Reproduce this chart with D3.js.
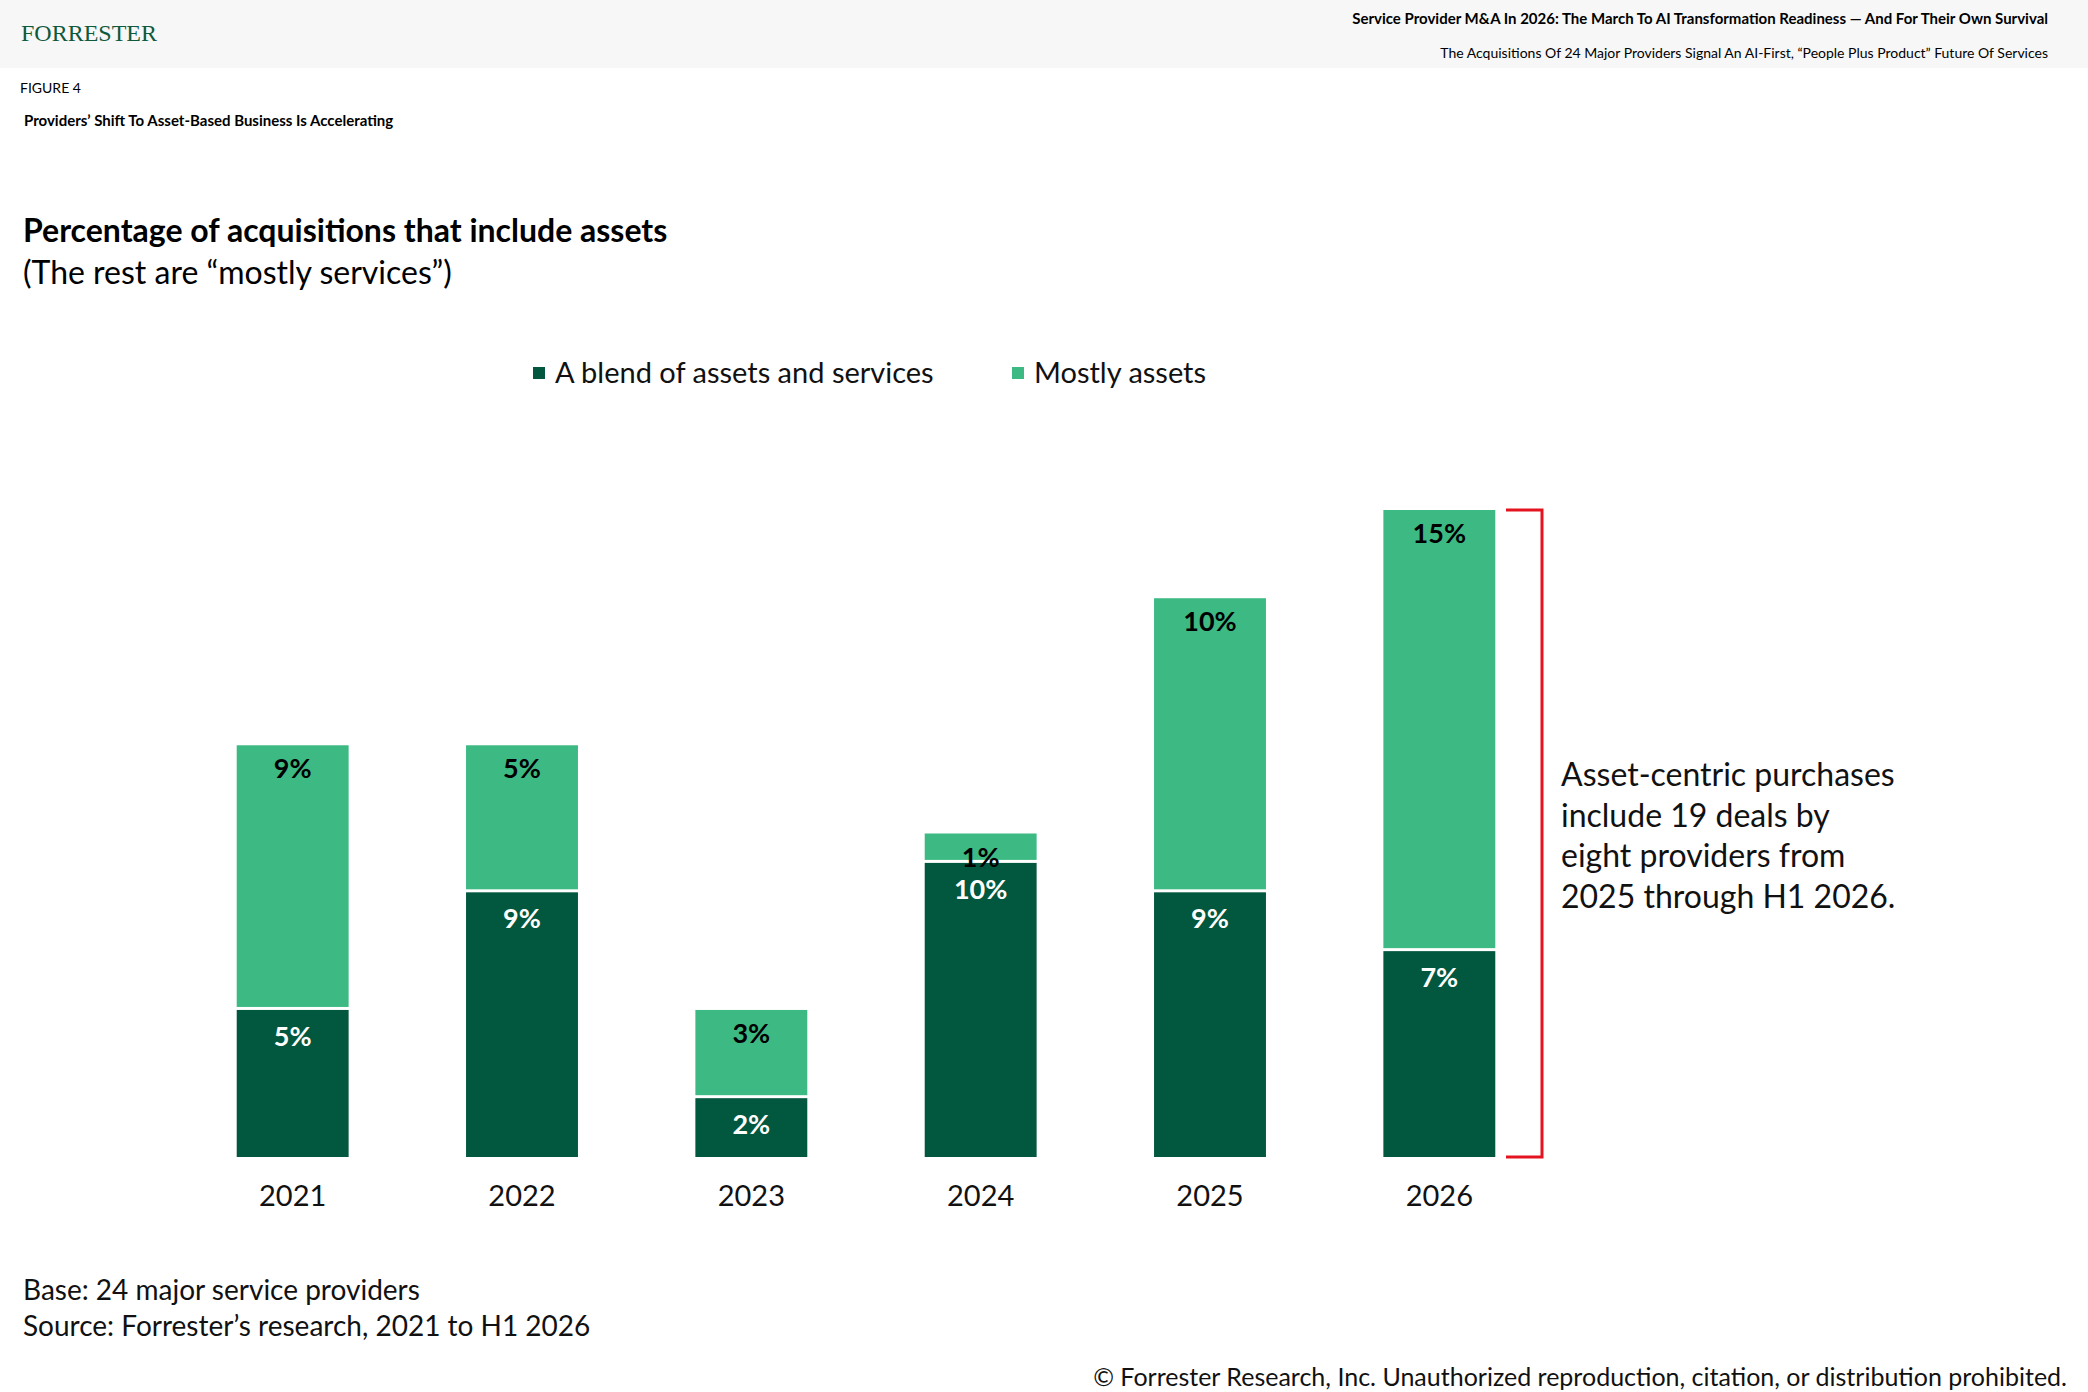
<!DOCTYPE html>
<html>
<head>
<meta charset="utf-8">
<script src="https://cdn.jsdelivr.net/npm/d3@7"></script>
<style>
  body { margin: 0; background: #fff; }
  text { font-family: Lato, "Open Sans", sans-serif; }
</style>
</head>
<body>
<svg id="chart" width="2088" height="1392"></svg>
<script>
// data
const years = ["2021", "2022", "2023", "2024", "2025", "2026"];
const blend = [5, 9, 2, 10, 9, 7];
const mostlyAssets = [9, 5, 3, 1, 10, 15];
const seriesNames = ["A blend of assets and services", "Mostly assets"];
const colors = ["#02573f", "#3dba83"];

const svg = d3.select("#chart");

// header band
svg.append("rect").attr("width", 2088).attr("height", 68).attr("fill", "#f7f7f7");
svg.append("text").attr("x", 21).attr("y", 41)
    .style("font-family", "'Liberation Serif', serif").attr("font-size", 24)
    .attr("fill", "#0f5a3c").text("FORRESTER");
svg.append("text").attr("x", 2048).attr("y", 24).attr("text-anchor", "end")
    .attr("font-size", 15).attr("font-weight", "bold")
    .text("Service Provider M&A In 2026: The March To AI Transformation Readiness — And For Their Own Survival");
svg.append("text").attr("x", 2048).attr("y", 58).attr("text-anchor", "end")
    .attr("font-size", 14)
    .text("The Acquisitions Of 24 Major Providers Signal An AI-First, “People Plus Product” Future Of Services");
svg.append("text").attr("x", 20).attr("y", 93).attr("font-size", 14).text("FIGURE 4");
svg.append("text").attr("x", 24).attr("y", 126).attr("font-size", 15).attr("font-weight", "bold")
    .text("Providers’ Shift To Asset-Based Business Is Accelerating");

svg.append("text").attr("x", 23).attr("y", 242).attr("font-size", 32).attr("font-weight", "bold")
    .text("Percentage of acquisitions that include assets");
svg.append("text").attr("x", 23).attr("y", 284).attr("font-size", 32)
    .text("(The rest are “mostly services”)");

// legend
const legX = [533, 1012];
seriesNames.forEach(function(n, i) {
    svg.append("rect").attr("x", legX[i]).attr("y", 367).attr("width", 12).attr("height", 12).attr("fill", colors[i]);
    svg.append("text").attr("x", legX[i] + 22).attr("y", 383).attr("font-size", 29).attr("fill", "#111").text(n);
});

// scales
const x = d3.scaleBand().domain(years).range([178, 1554]).paddingInner(0.512).paddingOuter(0.256);
const y = d3.scaleLinear().domain([0, 22]).range([1157, 510]);

const stackData = years.map(function(yr, i) { return { year: yr, blend: blend[i], assets: mostlyAssets[i] }; });
const stack = d3.stack().keys(["blend", "assets"])(stackData);

stack.forEach(function(layer, li) {
    const g = svg.append("g");
    g.selectAll("rect").data(layer).enter().append("rect")
        .attr("x", d => x(d.data.year))
        .attr("y", d => y(d[1]))
        .attr("width", x.bandwidth())
        .attr("height", d => y(d[0]) - y(d[1]) - (li === 0 ? 0 : 3))
        .attr("fill", colors[li]);
    g.selectAll("text").data(layer).enter().append("text")
        .attr("x", d => x(d.data.year) + x.bandwidth() / 2)
        .attr("y", d => y(d[1]) + (li === 0 ? 36 : 33))
        .attr("text-anchor", "middle").attr("font-size", 27).attr("font-weight", "bold")
        .attr("fill", li === 0 ? "#fff" : "#000")
        .text(d => (d[1] - d[0]) + "%");
});

// x axis labels
svg.append("g").selectAll("text").data(years).enter().append("text")
    .attr("x", d => x(d) + x.bandwidth() / 2).attr("y", 1206)
    .attr("text-anchor", "middle").attr("font-size", 29).attr("fill", "#111").text(d => d);

// bracket
const bx = 1542, bTop = y(blend[5] + mostlyAssets[5]), bBot = y(0);
svg.append("path")
    .attr("d", `M${bx - 36},${bTop}H${bx}V${bBot}H${bx - 36}`)
    .attr("fill", "none").attr("stroke", "#e3141f").attr("stroke-width", 3);

const note = ["Asset-centric purchases", "include 19 deals by", "eight providers from", "2025 through H1 2026."];
svg.append("g").selectAll("text").data(note).enter().append("text")
    .attr("x", 1561).attr("y", (d, i) => 786 + i * 40.5)
    .attr("font-size", 32).attr("fill", "#111").text(d => d);

// footer
svg.append("text").attr("x", 23).attr("y", 1300).attr("font-size", 28).attr("fill", "#111").text("Base: 24 major service providers");
svg.append("text").attr("x", 23).attr("y", 1336).attr("font-size", 28).attr("fill", "#111").text("Source: Forrester’s research, 2021 to H1 2026");
svg.append("text").attr("x", 2067).attr("y", 1386).attr("text-anchor", "end").attr("font-size", 25).attr("fill", "#111")
    .text("© Forrester Research, Inc. Unauthorized reproduction, citation, or distribution prohibited.");
</script>
</body>
</html>
